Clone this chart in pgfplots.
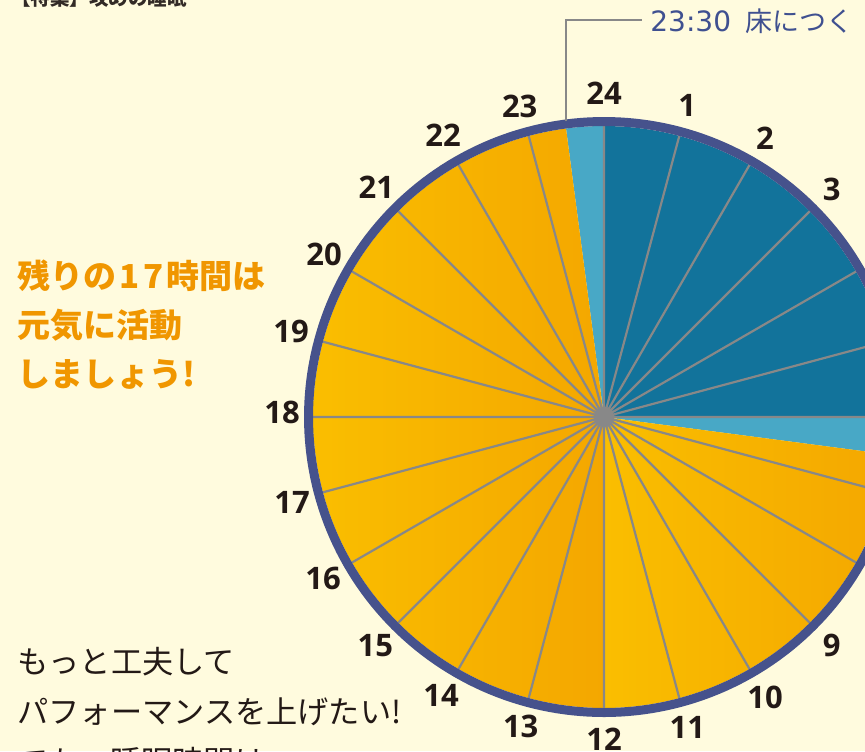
\documentclass[border=0pt]{standalone}
\usepackage{pgfplots}
\usepackage{pgfplotstable}
\pgfplotsset{compat=1.18}
\usepackage{fontspec}
\setmainfont{Open Sans}
\newfontfamily\jp{Noto Sans CJK JP}
\newfontfamily\djsans{DejaVu Sans}
\definecolor{bg}{RGB}{255,251,222}
\definecolor{dblue}{RGB}{18,115,155}
\definecolor{lblue}{RGB}{72,168,198}
\definecolor{navy}{RGB}{70,82,140}
\definecolor{olight}{RGB}{250,190,0}
\definecolor{odark}{RGB}{244,167,0}
\definecolor{spoke}{RGB}{136,136,136}
\definecolor{txtorange}{RGB}{240,150,0}
\definecolor{txtdark}{RGB}{35,25,22}
\definecolor{labblue}{RGB}{63,80,144}

% hour labels around the dial (pixel coordinates, y downwards)
\pgfplotstableread{
x y lab
687.3 105.0 1
765.0 138.1 2
831.7 189.3 3
882.9 256.0 4
831.7 645.7 9
765.0 696.9 10
687.3 727.0 11
604.0 739.0 12
520.7 726.0 13
441.0 695.9 14
375.3 645.7 15
323.1 578.0 16
292.0 502.3 17
282.0 412.0 18
291.0 331.7 19
324.1 254.0 20
376.3 187.3 21
443.0 135.1 22
519.7 106.0 23
604.0 93.0 24
}\hourlabels

\begin{document}
\begin{tikzpicture}
\useasboundingbox (0,0) rectangle (432.5pt,375.5pt);
\fill[bg] (0,0) rectangle (432.5pt,375.5pt);
\begin{axis}[at={(0,0)}, anchor=south west,
  width=432.5pt, height=375.5pt, scale only axis,
  xmin=0, xmax=865, ymin=0, ymax=751, y dir=reverse,
  hide axis, clip=true]

% sleep 0:00-6:00 (dark blue)
\addplot[draw=none, fill=dblue, domain=0:6, samples=61]
  ({604+291*sin(15*x)},{417-291*cos(15*x)}) -- (axis cs:604,417) -- cycle;
% 6:00-6:30 (light blue)
\addplot[draw=none, fill=lblue, domain=6:6.5, samples=8]
  ({604+291*sin(15*x)},{417-291*cos(15*x)}) -- (axis cs:604,417) -- cycle;
% 23:30-24:00 (light blue)
\addplot[draw=none, fill=lblue, domain=23.5:24, samples=8]
  ({604+291*sin(15*x)},{417-291*cos(15*x)}) -- (axis cs:604,417) -- cycle;
% awake 6:30-12:00
\addplot[draw=none, left color=olight, right color=odark, domain=6.5:12, samples=56]
  ({604+291*sin(15*x)},{417-291*cos(15*x)}) -- (axis cs:604,417) -- cycle;
% awake 12:00-23:30
\addplot[draw=none, left color=olight, right color=odark, domain=12:23.5, samples=116]
  ({604+291*sin(15*x)},{417-291*cos(15*x)}) -- (axis cs:604,417) -- cycle;

% hour spokes
\addplot[spoke, line width=1.1pt, line join=round] coordinates {
(604,417) (679.3,135.9) (604,417) (749.5,165.0) (604,417) (809.8,211.2)
(604,417) (856.0,271.5) (604,417) (885.1,341.7) (604,417) (895.0,417.0)
(604,417) (885.1,492.3) (604,417) (856.0,562.5) (604,417) (809.8,622.8)
(604,417) (749.5,669.0) (604,417) (679.3,698.1) (604,417) (604.0,708.0)
(604,417) (528.7,698.1) (604,417) (458.5,669.0) (604,417) (398.2,622.8)
(604,417) (352.0,562.5) (604,417) (322.9,492.3) (604,417) (313.0,417.0)
(604,417) (322.9,341.7) (604,417) (352.0,271.5) (604,417) (398.2,211.2)
(604,417) (458.5,165.0) (604,417) (528.7,135.9) (604,417) (604.0,126.0)
};

% dial rim
\addplot[navy, line width=4.5pt, domain=0:24, samples=241]
  ({604+295.5*sin(15*x)},{417-295.5*cos(15*x)}) -- cycle;

% leader line to 23:30
\addplot[spoke, line width=1pt] coordinates {(566,121) (566,20) (642,20)};

% hour numbers
\addplot[only marks, mark=none, nodes near coords, point meta=explicit symbolic,
  every node near coord/.append style={anchor=center, inner sep=0pt,
    text=txtdark, font=\bfseries\fontsize{15.5}{17}\selectfont}]
  table[x=x, y=y, meta=lab] {\hourlabels};

\node[anchor=west, inner sep=0pt, text=labblue]
  at (axis cs:650,21) {{\djsans\fontsize{14}{16}\selectfont 23:30}\hspace{7pt}{\jp\fontsize{13.5}{16}\selectfont 床につく}};

\node[anchor=west, inner sep=0pt, text={rgb,255:red,50;green,42;blue,38},
  font=\jp\bfseries\fontsize{9.75}{12}\selectfont]
  at (axis cs:11,-2) {【特集】攻めの睡眠};

\node[anchor=west, inner sep=0pt, text=txtorange, align=left,
  font=\jp\bfseries\fontsize{16.5}{24.5}\selectfont]
  at (axis cs:17,325) {残りの\hspace{1.5pt}1\hspace{2pt}7\hspace{1.5pt}時間は\\元気に活動\\しましょう!};

\node[anchor=west, inner sep=0pt, text=txtdark, align=left,
  font=\jp\fontsize{15.6}{25}\selectfont]
  at (axis cs:17,712) {もっと工夫して\\パフォーマンスを上げたい!\\でも、睡眠時間は};

\end{axis}
\end{tikzpicture}
\end{document}
